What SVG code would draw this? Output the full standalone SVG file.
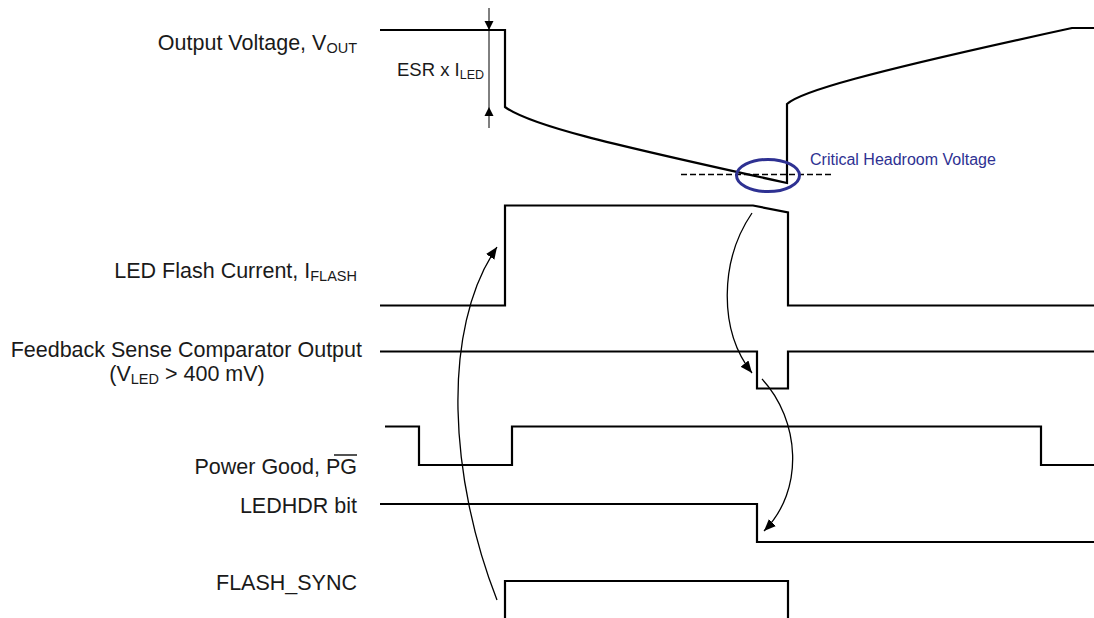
<svg xmlns="http://www.w3.org/2000/svg" width="1094" height="618" viewBox="0 0 1094 618">
<style>
.lbl{font-family:"Liberation Sans",Arial,sans-serif;font-size:21.5px;fill:#1a1a1a}
.sub{font-size:14.5px}
.wave{fill:none;stroke:#000;stroke-width:2.2;stroke-linejoin:miter}
.thin{fill:none;stroke:#000;stroke-width:1}
.arc{fill:none;stroke:#000;stroke-width:1.3}
.blue{font-family:"Liberation Sans",Arial,sans-serif;font-size:16px;fill:#2E3192}
</style>
<defs>
<marker id="ah" markerUnits="userSpaceOnUse" markerWidth="14" markerHeight="12" refX="12" refY="5" orient="auto">
<path d="M0,0 L12,5 L0,10 z" fill="#000"/>
</marker>
</defs>
<rect width="1094" height="618" fill="#fff"/>

<g id="vout">
<text class="lbl" x="357" y="50" text-anchor="end">Output Voltage, V<tspan class="sub" dy="3">OUT</tspan></text>
<path class="wave" d="M380,30 H505 V107 C530,125 600,142 787,183 V104 C800,92 860,74 1072,28 H1094"/>
</g>

<g id="esr">
<line class="thin" x1="489" y1="8" x2="489" y2="128"/>
<path d="M484.5,21 L493.5,21 L489,30 z" fill="#000"/>
<path d="M484.5,116 L493.5,116 L489,107 z" fill="#000"/>
<text class="lbl" x="397" y="76" style="font-size:18.5px">ESR x I<tspan class="sub" style="font-size:12.5px" dy="3">LED</tspan></text>
</g>

<g id="headroom">
<line x1="681" y1="174.5" x2="834" y2="174.5" stroke="#000" stroke-width="1.3" stroke-dasharray="6,3"/>
<ellipse cx="768" cy="175.5" rx="31.5" ry="16" fill="none" stroke="#2E3192" stroke-width="3"/>
<text class="blue" x="810" y="165">Critical Headroom Voltage</text>
</g>

<g id="iflash">
<text class="lbl" x="357" y="278" text-anchor="end">LED Flash Current, I<tspan class="sub" dy="3">FLASH</tspan></text>
<path class="wave" d="M380,305.5 H505 V205.5 H753 L788,212.5 V305.5 H1094"/>
</g>

<g id="comparator">
<text class="lbl" x="362" y="357" text-anchor="end">Feedback Sense Comparator Output</text>
<text class="lbl" x="187" y="381" text-anchor="middle">(V<tspan class="sub" dy="3">LED</tspan><tspan dy="-3"> &gt; 400 mV)</tspan></text>
<path class="wave" d="M380,351.5 H757 V388.5 H788 V351.5 H1094"/>
</g>

<g id="pg">
<text class="lbl" x="357" y="474" text-anchor="end">Power Good, PG</text>
<line x1="334" y1="455" x2="357" y2="455" stroke="#1a1a1a" stroke-width="1.5"/>
<path class="wave" d="M385,426.5 H419 V465 H512 V426.5 H1041 V465 H1094"/>
</g>

<g id="ledhdr">
<text class="lbl" x="357" y="513" text-anchor="end">LEDHDR bit</text>
<path class="wave" d="M380,504 H757 V542 H1094"/>
</g>

<g id="flashsync">
<text class="lbl" x="357" y="590" text-anchor="end">FLASH_SYNC</text>
<path class="wave" d="M505,618 V581 H788 V618"/>
</g>

<g id="connectors">
<path class="arc" d="M497,600 C450,480 440,330 497,247" marker-end="url(#ah)"/>
<path class="arc" d="M752,213 C720,260 718,330 752,373" marker-end="url(#ah)"/>
<path class="arc" d="M762,379 C800,420 805,490 764,531" marker-end="url(#ah)"/>
</g>
</svg>
